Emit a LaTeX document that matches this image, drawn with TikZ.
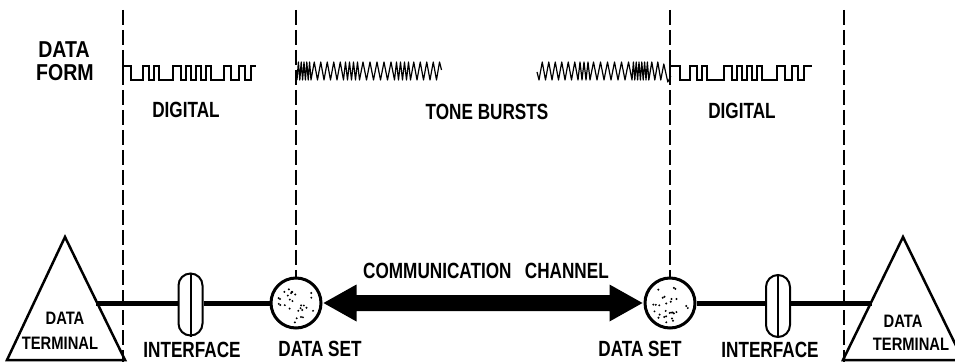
\documentclass[tikz,border=0pt]{standalone}
\usepackage{fontspec}
\setmainfont{Liberation Sans}
\usetikzlibrary{calc}
\newcommand\cond[1]{\scalebox{0.78}[1]{#1}}
\newcommand\condb[1]{\scalebox{0.85}[1]{#1}}
\newcommand\condc[1]{\scalebox{0.82}[1]{#1}}
\begin{document}
\begin{tikzpicture}[x=1pt,y=-1pt,
  lbl/.style={font=\fontsize{22}{24}\selectfont\bfseries, inner sep=0pt},
  big/.style={font=\fontsize{23}{25}\selectfont\bfseries, inner sep=0pt},
  small/.style={font=\fontsize{18}{20}\selectfont\bfseries, inner sep=0pt},
  guide/.style={line width=1.1pt, dash pattern=on 15pt off 5pt},
  wave/.style={line width=1.8pt, line join=miter},
  tone/.style={line width=1.2pt, line join=round},
  wire/.style={line width=5pt},
  dataset/.style={circle, draw, line width=3pt, minimum size=50pt, inner sep=0pt},
  iface/.style={rectangle, draw, line width=2pt, rounded corners=12pt, minimum width=24pt, minimum height=62pt, inner sep=0pt},
  term/.style={line width=2.5pt, line join=miter}]
\useasboundingbox (0,0) rectangle (955,363);
\clip (0,0) rectangle (955,363);

% ---------- bottom elements ----------
\node[dataset] (ds1) at (296,303) {};
\node[dataset] (ds2) at (670,303) {};
\node[iface] (if1) at (190.5,304.5) {};
\node[iface] (if2) at (778,306) {};
\draw[line width=2pt] (if1.north) -- (if1.south);
\draw[line width=2pt] (if2.north) -- (if2.south);

% dots in data sets
\pgfmathsetseed{11}
\foreach \c in {ds1,ds2}{
  \foreach \i in {1,...,28}{
    \pgfmathsetmacro\rr{20*sqrt(rnd)}
    \pgfmathsetmacro\aa{360*rnd}
    \fill ($(\c)+(\aa:\rr)$) circle (1.1pt);
  }
}

% triangles (data terminals)
\coordinate (t1a) at (65,237);
\coordinate (t1l) at (7,360);
\coordinate (t1r) at (125,360);
\coordinate (t1c) at (95.5,303);
\draw[term] (t1l) -- (t1a) -- (t1r) -- cycle;
\coordinate (t2a) at (903,237);
\coordinate (t2l) at (843,360);
\coordinate (t2r) at (963,360);
\coordinate (t2c) at (872,303);
\draw[term] (t2l) -- (t2a) -- (t2r) -- cycle;

% wires
\draw[wire] (t1c) -- (if1.west |- t1c);
\draw[wire] (if1.east |- ds1.west) -- (ds1.west);
\draw[wire] (ds2.east) -- (if2.west |- ds2.east);
\draw[wire] (if2.east |- ds2.east) -- (t2c);

% communication channel double arrow
\fill ($(ds1.east)+(1,0)$) -- ($(ds1.east)+(34,-18.5)$) -- ($(ds1.east)+(34,-8)$)
   -- ($(ds2.west)+(-34,-8)$) -- ($(ds2.west)+(-34,-18.5)$) -- ($(ds2.west)+(-1,0)$)
   -- ($(ds2.west)+(-34,18.5)$) -- ($(ds2.west)+(-34,8)$)
   -- ($(ds1.east)+(34,8)$) -- ($(ds1.east)+(34,18.5)$) -- cycle;

% ---------- guide lines ----------
\coordinate (g1t) at (123,10);  \coordinate (g1b) at (123,362);
\coordinate (g4t) at (844,10);  \coordinate (g4b) at (844,362);
\draw[guide] (g1t) -- (g1b);
\draw[guide] (g4t) -- (g4b);
\draw[guide] (ds1.north |- g1t) -- (ds1.north);
\draw[guide] (ds2.north |- g1t) -- (ds2.north);

% ---------- waveforms ----------
% left digital
\draw[wave] (123,80) foreach \a/\b in {8/12,6/5,5/14,8/5,5/5,5/5,5/13,7/8,6/6}
   { -- ++(0,-14) -- ++(\a,0) -- ++(0,14) -- ++(\b,0) } -- ++(0,-14) -- ++(5,0);
% right digital
\draw[wave] (670,80) foreach \a/\b in {10/10,7/5,5/17,8/5,5/5,5/5,5/15,8/7,6/6}
   { -- ++(0,-14) -- ++(\a,0) -- ++(0,14) -- ++(\b,0) } -- ++(0,-14) -- ++(8,0);
% left tone burst
\draw[tone] (297,80) foreach \p in {2.8,2.8,2.8,2.8,2.8,6.5,6.5,6.5,6.5,6.5,4,4,4,4,7,7,7,7,7,4,4,4,4,6.5,6.5,6.5,6.5}
   { -- ++({\p/2},-18) -- ++({\p/2},18) } -- ++(3,-18) -- ++(2,8);
% right tone burst
\draw[tone] (537,72) -- ++(2,8) foreach \p in {6.5,6.5,6.5,6.5,6.5,6.5,4,4,4,7,7,7,7,7,7,2.8,2.8,2.8,2.8,2.8,2.8,6,6}
   { -- ++({\p/2},-18) -- ++({\p/2},18) } -- ++(3,-16) -- ++(4,18) -- ++(3,-6);

% ---------- labels ----------
\node[big] (dfa) at (64,50) {\condb{DATA}};
\node[big] (dfb) at (65,73) {\condb{FORM}};
\node[lbl] (dig1) at (186,110) {\cond{DIGITAL}};
\node[lbl] (tb) at (487,112) {\cond{TONE BURSTS}};
\node[lbl] (dig2) at (742,111) {\cond{DIGITAL}};
\node[lbl] (cc) at (486,271) {\cond{COMMUNICATION\hspace{0.5em} CHANNEL}};
\node[lbl] (dsl1) at (320,349) {\cond{DATA SET}};
\node[lbl] (dsl2) at (640,349) {\cond{DATA SET}};
\node[lbl] (ifl1) at (192,350) {\cond{INTERFACE}};
\node[lbl] (ifl2) at (770,350) {\cond{INTERFACE}};
\node[small] (tl1a) at (65,318) {\condc{DATA}};
\node[small] (tl1b) at (60,343) {\condc{TERMINAL}};
\node[small] (tl2a) at (903,321) {\condc{DATA}};
\node[small] (tl2b) at (911,344) {\condc{TERMINAL}};
\end{tikzpicture}
\end{document}
